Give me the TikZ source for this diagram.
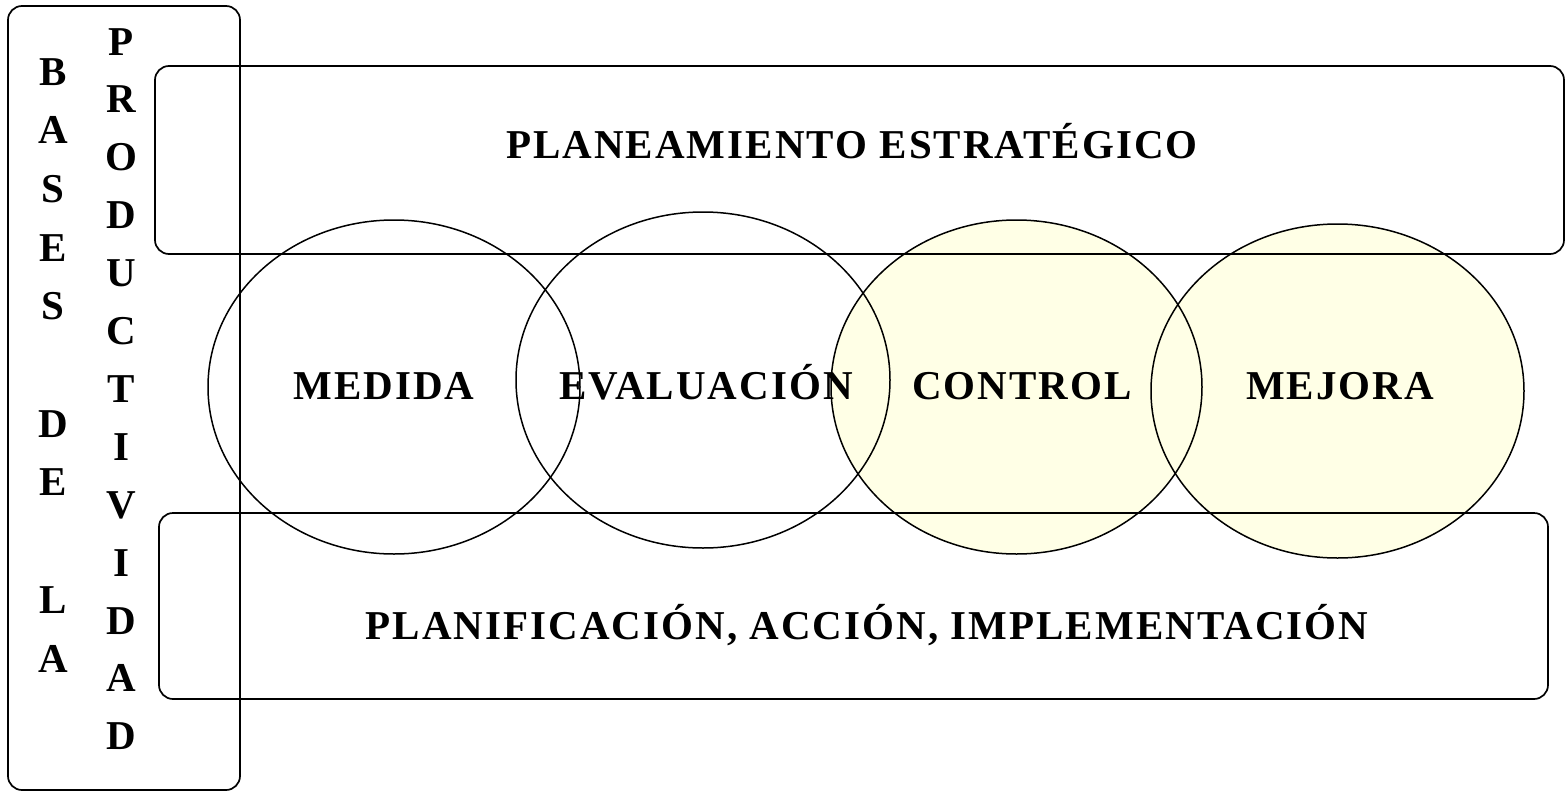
\documentclass[tikz,border=0pt]{standalone}
\usepackage{fontspec}
\setmainfont{Liberation Serif}
\usetikzlibrary{shapes.geometric}
\definecolor{ltyellow}{RGB}{255,255,230}
\tikzset{
  frame/.style={draw=black, line width=0.85pt, rounded corners=7pt, inner sep=0pt},
  ring/.style={draw=black, line width=0.75pt, ellipse, inner sep=0pt},
  lbl/.style={font=\fontsize{20.5}{24}\selectfont\bfseries\addfontfeature{LetterSpace=5}, anchor=base, inner sep=0pt},
  vlet/.style={font=\fontsize{20.5}{24}\selectfont\bfseries, anchor=base, inner sep=0pt}
}
\begin{document}
\begin{tikzpicture}[x=0.5pt,y=-0.5pt]
\useasboundingbox[fill=white] (0,0) rectangle (1565,793);
% yellow fills first
\fill[ltyellow] (1016.5,387) ellipse [x radius=185.5, y radius=167];
\fill[ltyellow] (1337.5,391) ellipse [x radius=186.5, y radius=167];
% ellipse outlines (sizes in pt = pixels/2)
\node[ring, minimum width=186pt, minimum height=167pt] (med) at (394,387) {};
\node[ring, minimum width=187pt, minimum height=168pt] (eva) at (703,380) {};
\node[ring, minimum width=185.5pt, minimum height=167pt] (con) at (1016.5,387) {};
\node[ring, minimum width=186.5pt, minimum height=167pt] (mej) at (1337.5,391) {};
% frames
\node[frame, minimum width=116pt, minimum height=392pt] (bases) at (124,398) {};
\node[frame, minimum width=704.5pt, minimum height=94pt] (plan) at (859.5,160) {};
\node[frame, minimum width=694.5pt, minimum height=93pt] (impl) at (853.5,606) {};
% labels
\node[lbl] (tplan) at (852,158) {PLANEAMIENTO ESTRATÉGICO};
\node[lbl] (tmed) at (384,399) {MEDIDA};
\node[lbl] (teva) at (706,399) {EVALUACIÓN};
\node[lbl] (tcon) at (1022,399) {CONTROL};
\node[lbl] (tmej) at (1340,399) {MEJORA};
\node[lbl] (timpl) at (867,639) {PLANIFICACIÓN, ACCIÓN, IMPLEMENTACIÓN};
% vertical texts
\foreach \l/\k in {B/0,A/1,S/2,E/3,S/4,D/6,E/7,L/9,A/10}
  \node[vlet] (b\k) at (53,{85+58.7*\k}) {\l};
\foreach \l [count=\i from 0] in {P,R,O,D,U,C,T,I,V,I,D,A,D}
  \node[vlet] (p\i) at (121,{55+57.9*\i}) {\l};
\end{tikzpicture}
\end{document}
